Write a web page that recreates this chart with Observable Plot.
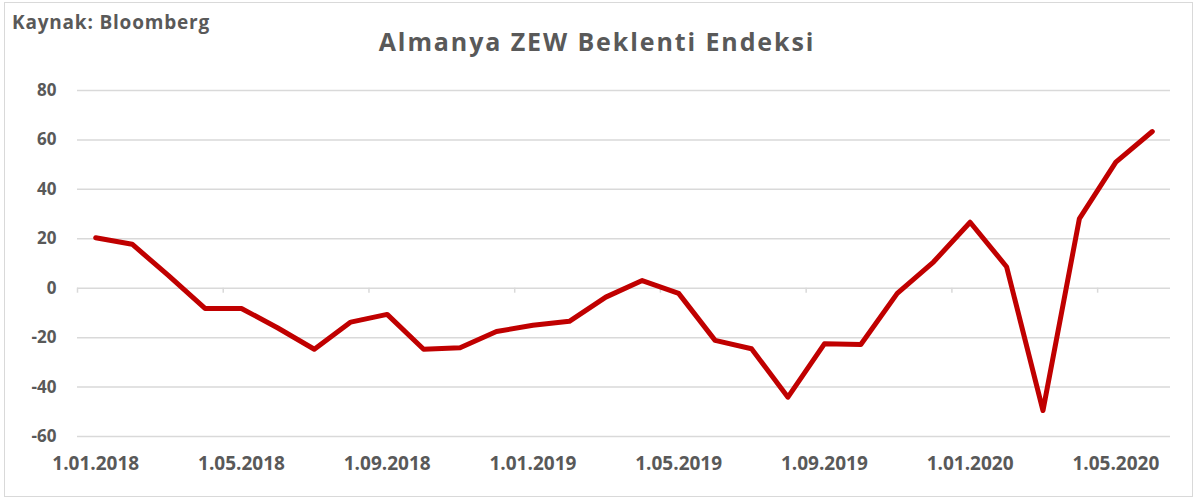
<!DOCTYPE html>
<html>
<head>
<meta charset="utf-8">
<script src="https://cdn.jsdelivr.net/npm/d3@7"></script>
<script src="https://cdn.jsdelivr.net/npm/@observablehq/plot@0.6"></script>
<style>
  html, body { margin: 0; padding: 0; background: #fff; }
  #wrap { position: relative; width: 1194px; height: 500px; overflow: hidden; font-family: "Open Sans", Lato, sans-serif; }
  #frame { position: absolute; left: 4px; top: 2px; width: 1189px; height: 495px; border: 1px solid #d9d9d9; box-sizing: border-box; }
  #source { position: absolute; left: 12px; top: 9px; font-size: 19px; font-weight: 700; color: #595959; letter-spacing: 0.8px; }
  #title { position: absolute; left: 0; width: 1194px; top: 24px; text-align: center; font-size: 25px; font-weight: 700; color: #595959; letter-spacing: 1.9px; }
  #chart { position: absolute; left: 0; top: 0; }
</style>
</head>
<body>
<div id="wrap">
  <div id="chart"></div>
  <div id="frame"></div>
  <div id="source">Kaynak: Bloomberg</div>
  <div id="title">Almanya ZEW Beklenti Endeksi</div>
</div>
<script>
const months = [
  "1.01.2018","1.02.2018","1.03.2018","1.04.2018","1.05.2018","1.06.2018",
  "1.07.2018","1.08.2018","1.09.2018","1.10.2018","1.11.2018","1.12.2018",
  "1.01.2019","1.02.2019","1.03.2019","1.04.2019","1.05.2019","1.06.2019",
  "1.07.2019","1.08.2019","1.09.2019","1.10.2019","1.11.2019","1.12.2019",
  "1.01.2020","1.02.2020","1.03.2020","1.04.2020","1.05.2020","1.06.2020"
];
const zew = [
  20.4, 17.8, 5.1, -8.2, -8.2, -16.1,
  -24.7, -13.7, -10.6, -24.7, -24.1, -17.5,
  -15.0, -13.4, -3.6, 3.1, -2.1, -21.1,
  -24.5, -44.1, -22.5, -22.8, -2.1, 10.7,
  26.7, 8.7, -49.5, 28.2, 51.0, 63.4
];
const xTickLabels = ["1.01.2018","1.05.2018","1.09.2018","1.01.2019","1.05.2019","1.09.2019","1.01.2020","1.05.2020"];
const yTicks = [-60, -40, -20, 0, 20, 40, 60, 80];

const data = months.map((m, i) => ({month: m, value: zew[i]}));
const W = 1194, ML = 77, MR = 24;
const step = (W - ML - MR) / months.length;

const chart = Plot.plot({
  width: W,
  height: 500,
  marginLeft: ML,
  marginRight: MR,
  marginTop: 90,
  marginBottom: 64,
  style: {fontFamily: "'Open Sans', Lato, sans-serif", background: "transparent"},
  x: {type: "point", domain: months, padding: 0.5, round: false},
  y: {domain: [-60, 80]},
  marks: [
    Plot.ruleY(yTicks, {stroke: "#d9d9d9", strokeWidth: 1.5}),
    Plot.ruleX(xTickLabels, {x: d => d, y1: 0, y2: 0, insetBottom: -5, dx: -step / 2, stroke: "#d9d9d9", strokeWidth: 1.5}),
    Plot.axisY(yTicks, {tickSize: 0, tickPadding: 21, fontSize: 17, fontWeight: 700, fill: "#595959", label: null, tickFormat: d => String(d)}),
    Plot.axisX(xTickLabels, {tickSize: 0, tickPadding: 20, fontSize: 19, fontWeight: 700, fill: "#595959", label: null}),
    Plot.line(data, {x: "month", y: "value", stroke: "#c00000", strokeWidth: 5, strokeLinejoin: "round", strokeLinecap: "round"})
  ]
});
document.getElementById("chart").appendChild(chart);
</script>
</body>
</html>
